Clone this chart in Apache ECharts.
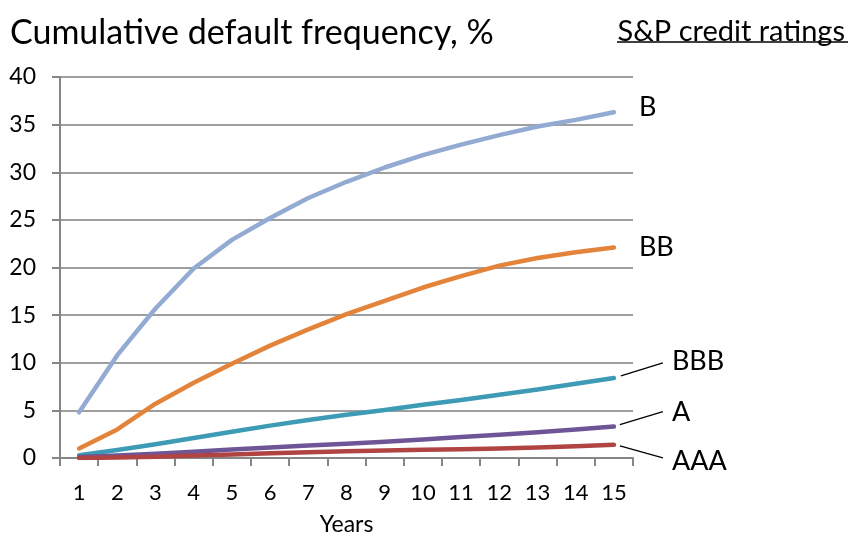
<!DOCTYPE html>
<html>
<head>
<meta charset="utf-8">
<script src="https://cdn.jsdelivr.net/npm/echarts@6/dist/echarts.min.js"></script>
<style>
  html, body { margin: 0; padding: 0; background: #ffffff; }
  #chart { width: 852px; height: 535px; }
</style>
</head>
<body>
<div id="chart"></div>
<script>
// Years after rating, 1..15
const years = ['1','2','3','4','5','6','7','8','9','10','11','12','13','14','15'];

// Cumulative default frequency (%) by S&P rating
const ratingB   = [4.8, 10.8, 15.7, 19.9, 22.9, 25.2, 27.3, 29.0, 30.5, 31.8, 32.9, 33.9, 34.8, 35.5, 36.3];
const ratingBB  = [1.0, 3.0, 5.7, 7.9, 9.9, 11.8, 13.5, 15.1, 16.5, 17.9, 19.1, 20.2, 21.0, 21.6, 22.1];
const ratingBBB = [0.3, 0.85, 1.45, 2.1, 2.75, 3.4, 4.0, 4.55, 5.05, 5.6, 6.1, 6.65, 7.2, 7.8, 8.4];
const ratingA   = [0.1, 0.25, 0.45, 0.65, 0.9, 1.1, 1.3, 1.5, 1.7, 1.95, 2.2, 2.45, 2.7, 3.0, 3.3];
const ratingAAA = [0.0, 0.04, 0.14, 0.26, 0.38, 0.49, 0.6, 0.7, 0.78, 0.86, 0.92, 1.0, 1.1, 1.23, 1.38];

const yTicks = { min: 0, max: 40, interval: 5 };

const FONT = 'Lato';

const seriesDefs = [
  { name: 'B',   data: ratingB,   color: '#93AAD3', off: [25, -5] },
  { name: 'BB',  data: ratingBB,  color: '#E3843A', off: [25, 0] },
  { name: 'BBB', data: ratingBBB, color: '#3E9BB5', off: [58, -17], lead: [[7, -2], [49, -15]] },
  { name: 'A',   data: ratingA,   color: '#6E5595', off: [58, -14], lead: [[6, -2], [49, -15]] },
  { name: 'AAA', data: ratingAAA, color: '#B04443', off: [58, 16],  lead: [[6, 1], [49, 13]] }
];

const chart = echarts.init(document.getElementById('chart'), null, { renderer: 'canvas' });

chart.setOption({
  animation: false,
  backgroundColor: '#ffffff',
  textStyle: { fontFamily: FONT },
  title: [
    {
      text: 'Cumulative default frequency, %',
      left: 5, top: 11,
      textStyle: { fontFamily: FONT, fontSize: 34, fontWeight: 'normal', color: '#000' }
    },
    {
      text: 'S&P credit ratings',
      right: 2, top: 12,
      textStyle: { fontFamily: FONT, fontSize: 29, fontWeight: 'normal', color: '#000' }
    }
  ],
  grid: { left: 60, right: 219, top: 77, bottom: 77, containLabel: false, outerBoundsMode: 'none' },
  xAxis: {
    type: 'category',
    data: years,
    boundaryGap: true,
    name: 'Years',
    nameLocation: 'middle',
    nameGap: 55,
    nameTextStyle: { fontFamily: FONT, fontSize: 23, color: '#000' },
    axisLine: { lineStyle: { color: '#868686', width: 2 } },
    axisTick: { show: true, length: 8, alignWithLabel: false, lineStyle: { color: '#868686', width: 2 } },
    axisLabel: { margin: 24, fontFamily: FONT, fontSize: 22, color: '#000' },
    splitLine: { show: false }
  },
  yAxis: {
    type: 'value',
    min: yTicks.min, max: yTicks.max, interval: yTicks.interval,
    axisLine: { show: true, lineStyle: { color: '#868686', width: 2 } },
    axisTick: { show: true, length: 8, lineStyle: { color: '#868686', width: 2 } },
    axisLabel: { margin: 24, fontFamily: FONT, fontSize: 23, color: '#000' },
    splitLine: { show: true, lineStyle: { color: '#9E9E9E', width: 2 } }
  },
  series: seriesDefs.map(s => ({
    name: s.name,
    type: 'line',
    data: s.data,
    smooth: false,
    symbol: 'none',
    lineStyle: { color: s.color, width: 4.5, cap: 'round', join: 'round' },
    itemStyle: { color: s.color },
    endLabel: {
      show: true,
      formatter: s.name,
      distance: 0,
      offset: s.off,
      fontFamily: FONT,
      fontSize: 27,
      color: '#000'
    }
  }))
});

// Leader lines from the last point of the lower series to their name labels,
// plus the underline of the ratings heading.
function drawDecorations() {
  const graphics = [];
  seriesDefs.forEach((s, i) => {
    if (!s.lead) return;
    const last = s.data.length - 1;
    const p = chart.convertToPixel({ seriesIndex: i }, [last, s.data[last]]);
    graphics.push({
      type: 'line',
      shape: {
        x1: p[0] + s.lead[0][0], y1: p[1] + s.lead[0][1],
        x2: p[0] + s.lead[1][0], y2: p[1] + s.lead[1][1]
      },
      style: { stroke: '#000', lineWidth: 1.3 },
      silent: true
    });
  });
  graphics.push({
    type: 'line',
    shape: { x1: 617, y1: 42, x2: 848, y2: 42 },
    style: { stroke: '#000', lineWidth: 1.5 },
    silent: true
  });
  chart.setOption({ graphic: graphics });
}
drawDecorations();
</script>
</body>
</html>
